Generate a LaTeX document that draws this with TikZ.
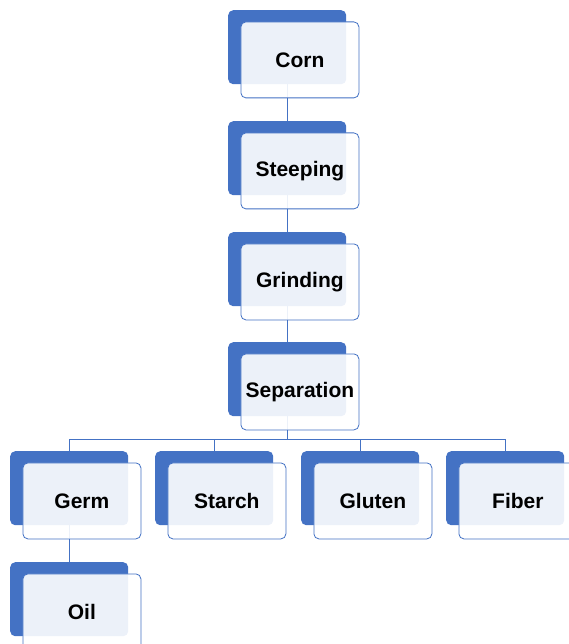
\documentclass[tikz,border=0pt]{standalone}
\usepackage{fontspec}
\setmainfont{Liberation Sans}
\usetikzlibrary{positioning}
\definecolor{accentblue}{RGB}{68,114,196}

\begin{document}
\begin{tikzpicture}[x=1pt,y=-1pt,
  back/.style={fill=accentblue, rounded corners=5pt, minimum width=118pt,
    minimum height=74pt, inner sep=0pt, anchor=north west},
  front/.style={draw=accentblue, line width=0.8pt, fill=white, fill opacity=0.9,
    text opacity=1, rounded corners=5pt, minimum width=118pt, minimum height=76pt,
    inner sep=0pt, anchor=north west, font=\fontsize{21}{25}\selectfont\bfseries},
  link/.style={draw=accentblue, line width=0.9pt}]
  \useasboundingbox (0,0) rectangle (569,644);
  % back boxes
  \foreach \nm/\x/\y in {corn/228/10, steep/228/121, grind/228/232, sep/228/342,
      germ/10/451, starch/155/451, gluten/301/451, fiber/446/451, oil/10/562}
    \node[back] (\nm) at (\x,\y) {};
  % connectors
  \draw[link] (corn.south) -- (steep.north);
  \draw[link] (steep.south) -- (grind.north);
  \draw[link] (grind.south) -- (sep.north);
  \draw[link] (sep.south) -- ++(0,23) coordinate (bus);
  \draw[link] (bus) -| (germ.north);
  \draw[link] (bus) -| (starch.north);
  \draw[link] (bus) -| (gluten.north);
  \draw[link] (bus) -| (fiber.north);
  \draw[link] (germ.south) -- (oil.north);
  % front boxes
  \foreach \nm/\txt in {corn/Corn, steep/Steeping, grind/Grinding, sep/Separation,
      germ/Germ, starch/Starch, gluten/Gluten, fiber/Fiber, oil/Oil}
    \node[front, below right=11.5pt and 12.5pt of \nm.north west] (\nm-t) {\txt};
\end{tikzpicture}
\end{document}
